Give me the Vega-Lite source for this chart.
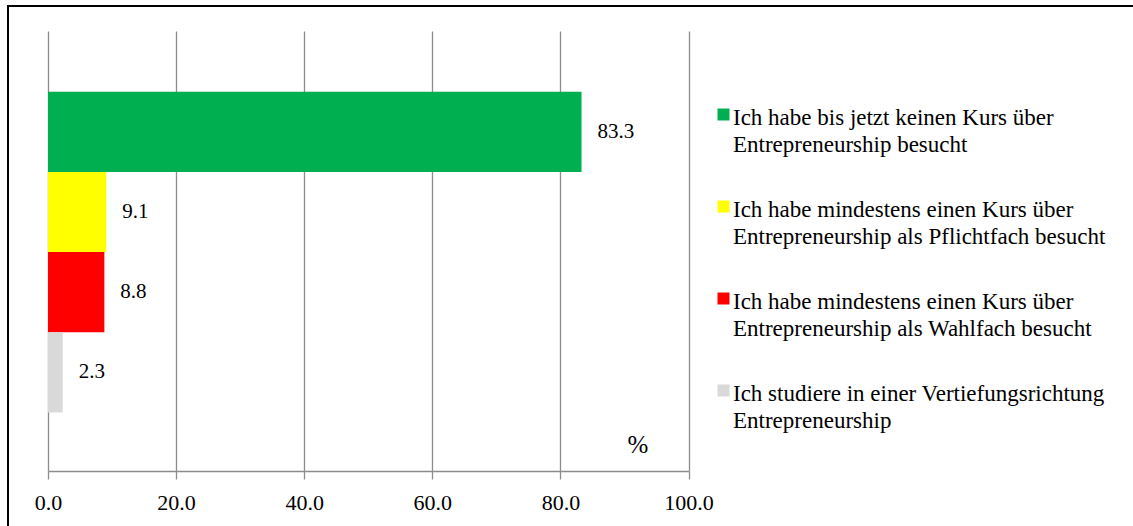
{
  "$schema": "https://vega.github.io/schema/vega-lite/v6.json",
  "width": 1160,
  "height": 522,
  "autosize": {"type": "none"},
  "padding": {"left": 8, "top": 6, "right": 0, "bottom": 0},
  "background": "white",
  "config": {
    "view": {"stroke": "black", "strokeWidth": 2},
    "font": "Liberation Serif"
  },
  "data": {
    "values": [
      {"kategorie": "Ich habe bis jetzt keinen Kurs über|Entrepreneurship besucht", "anteil": 83.3},
      {"kategorie": "Ich habe mindestens einen Kurs über|Entrepreneurship als Pflichtfach besucht", "anteil": 9.1},
      {"kategorie": "Ich habe mindestens einen Kurs über|Entrepreneurship als Wahlfach besucht", "anteil": 8.8},
      {"kategorie": "Ich studiere in einer Vertiefungsrichtung|Entrepreneurship", "anteil": 2.3}
    ]
  },
  "encoding": {
    "y": {
      "field": "kategorie",
      "type": "nominal",
      "sort": null,
      "axis": null,
      "scale": {"range": [57, 497], "paddingInner": 0, "paddingOuter": 0.744, "align": 0.241}
    },
    "x": {
      "field": "anteil",
      "type": "quantitative",
      "scale": {"domain": [0, 100], "range": [40, 680.5], "nice": false, "zero": true},
      "axis": {
        "values": [0, 20, 40, 60, 80, 100],
        "format": ".1f",
        "offset": -57,
        "grid": true,
        "gridColor": "#8c8c8c",
        "gridWidth": 1.3,
        "domainColor": "#8c8c8c",
        "domainWidth": 1.3,
        "tickColor": "#8c8c8c",
        "tickWidth": 1.3,
        "tickSize": 8,
        "labelFont": "Liberation Serif",
        "labelFontSize": 22,
        "labelColor": "black",
        "labelPadding": 13,
        "labelFlush": false,
        "title": "%",
        "titleX": 629.5,
        "titleY": -19,
        "titleBaseline": "alphabetic",
        "titleAlign": "center",
        "titleAnchor": null,
        "titleFont": "Liberation Serif",
        "titleFontSize": 25,
        "titleFontWeight": "normal",
        "titleColor": "black"
      }
    }
  },
  "layer": [
    {
      "mark": {"type": "bar"},
      "encoding": {
        "color": {
          "field": "kategorie",
          "type": "nominal",
          "sort": null,
          "scale": {"range": ["#00B050", "#FFFF00", "#FF0000", "#D9D9D9"]},
          "legend": {
            "title": null,
            "orient": "none",
            "direction": "vertical",
            "legendX": 704,
            "legendY": 97,
            "padding": 0,
            "symbolType": "square",
            "symbolSize": 144,
            "symbolStrokeWidth": 0,
            "symbolOpacity": 1,
            "labelFont": "Liberation Serif",
            "labelFontSize": 23,
            "labelColor": "black",
            "labelLimit": 600,
            "labelOffset": -2,
            "labelBaseline": "alphabetic",
            "labelExpr": "split(datum.label, '|')",
            "rowPadding": 38,
            "encode": {
              "labels": {"update": {"dy": {"value": 10}, "lineHeight": {"value": 27}}}
            }
          }
        }
      }
    },
    {
      "mark": {"type": "text", "align": "left", "baseline": "middle", "dx": 16, "fontSize": 21, "font": "Liberation Serif", "color": "black"},
      "encoding": {"text": {"field": "anteil", "type": "quantitative", "format": ".1f"}}
    }
  ]
}
